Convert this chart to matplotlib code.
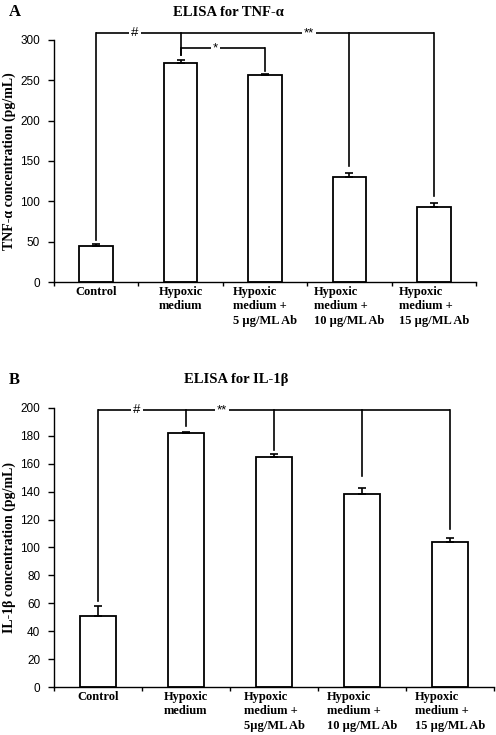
import numpy as np
import matplotlib
matplotlib.use("Agg")
import matplotlib.pyplot as plt

# data
groups_a = ["Control", "Hypoxic\nmedium", "Hypoxic\nmedium +\n5 \u00b5g/ML Ab",
            "Hypoxic\nmedium +\n10 \u00b5g/ML Ab", "Hypoxic\nmedium +\n15 \u00b5g/ML Ab"]
groups_b = ["Control", "Hypoxic\nmedium", "Hypoxic\nmedium +\n5\u00b5g/ML Ab",
            "Hypoxic\nmedium +\n10 \u00b5g/ML Ab", "Hypoxic\nmedium +\n15 \u00b5g/ML Ab"]
tnf_mean = [45, 271, 257, 130, 93]
tnf_err = [2, 4, 1, 5, 5]
il1b_mean = [51, 182, 165, 138, 104]
il1b_err = [7, 1, 2, 5, 3]

serif = "Liberation Serif"
sans = "Liberation Sans"

fig = plt.figure(figsize=(4.96, 7.35), dpi=100)


def panel(ax, means, errs, labels, ymax, ytop, ystep, ylabel, label_x):
    x = np.arange(len(means))
    ax.bar(x, means, width=0.4, color="white", edgecolor="black", linewidth=1.3, zorder=2)
    ax.errorbar(x, means, yerr=[np.zeros(len(errs)), errs], fmt="none",
                ecolor="black", elinewidth=1.2, capsize=3, capthick=1.2, zorder=3)
    ax.set_xlim(-0.5, len(means) - 0.5)
    ax.set_ylim(0, ytop)
    for s in ["top", "right"]:
        ax.spines[s].set_visible(False)
    ax.spines["left"].set_bounds(0, ymax)
    ax.spines["left"].set_linewidth(1.0)
    ax.spines["bottom"].set_linewidth(1.0)
    ax.set_yticks(np.arange(0, ymax + 1, ystep))
    ax.tick_params(axis="y", direction="out", length=4, width=1, labelsize=8.5, pad=6)
    for t in ax.get_yticklabels():
        t.set_fontfamily(sans)
    ax.set_xticks(x)
    ax.set_xticklabels(labels, fontfamily=serif, fontweight="bold", fontsize=9,
                       multialignment="left", linespacing=1.25)
    # nudge the longer labels to the right a little, like the original
    for t, dx in zip(ax.get_xticklabels(), [0, 0, 0.05, 0.1, 0.09]):
        t.set_x(t.get_position()[0] + dx)
    ax.set_xticks(np.arange(-0.5, len(means)), minor=True)
    ax.tick_params(axis="x", which="major", length=0, pad=3)
    ax.tick_params(axis="x", which="minor", direction="out", length=3, width=1)
    ax.set_ylabel(ylabel, fontfamily=serif, fontweight="bold", fontsize=10)
    ax.yaxis.set_label_coords(label_x, (ymax / 2) / ytop)


def bracket(ax, xs, ends, y, lw=1.2):
    ax.plot([xs[0], xs[-1]], [y, y], color="black", lw=lw, zorder=4, solid_capstyle="butt")
    for xi, e in zip(xs, ends):
        ax.plot([xi, xi], [y, e], color="black", lw=lw, zorder=4)


def star(ax, xpos, y, s):
    ax.text(xpos, y, s, ha="center", va="center", fontsize=9.5, fontfamily=sans, zorder=5,
            bbox=dict(facecolor="white", edgecolor="none", pad=1.5))


# Panel A
ax1 = fig.add_axes([0.1089, 0.6163, 0.8508, 0.3513])
panel(ax1, tnf_mean, tnf_err, groups_a, 300, 320, 50,
      "TNF-\u03b1 concentration (pg/mL)", -0.09)
bracket(ax1, [0, 1, 3, 4], [52, 281, 144, 106], 308.5)
bracket(ax1, [1, 2], [281, 261], 290)
star(ax1, 0.46, 308.5, "#")
star(ax1, 2.52, 308.5, "**")
star(ax1, 1.41, 290, "*")
fig.text(0.461, 0.983, "ELISA for TNF-\u03b1", ha="center", va="center",
         fontfamily=serif, fontweight="bold", fontsize=10.5)
fig.text(0.018, 0.983, "A", ha="left", va="center",
         fontfamily=serif, fontweight="bold", fontsize=12)

# Panel B
ax2 = fig.add_axes([0.1089, 0.0653, 0.8871, 0.3891])
panel(ax2, il1b_mean, il1b_err, groups_b, 200, 205, 20,
      "IL-1\u03b2 concentration (pg/mL)", -0.086)
bracket(ax2, [0, 1, 2, 3, 4], [62, 187, 170, 151, 113], 198.6)
star(ax2, 0.44, 198.6, "#")
star(ax2, 1.41, 198.6, "**")
fig.text(0.476, 0.483, "ELISA for IL-1\u03b2", ha="center", va="center",
         fontfamily=serif, fontweight="bold", fontsize=10.5)
fig.text(0.018, 0.483, "B", ha="left", va="center",
         fontfamily=serif, fontweight="bold", fontsize=12)

fig.savefig("out.png", dpi=100)
